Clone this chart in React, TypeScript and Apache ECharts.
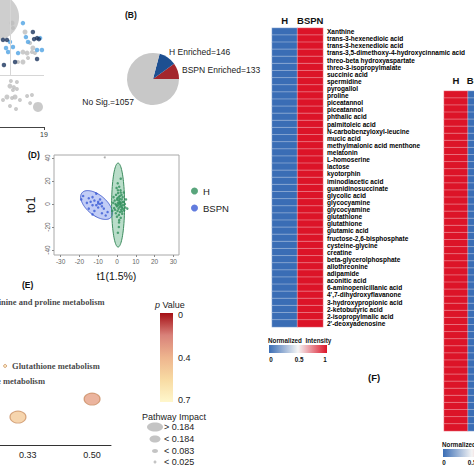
import React, { useEffect, useRef } from 'react';
import * as echarts from 'echarts';

// ---------- (A) volcano fragment: [x, y, size] ----------
const aBlob = [[-1.7, 43.3, 46]];
const aGray = [
  [5.2, 40.9, 5], [5.6, 39.0, 4], [10.8, 37.4, 5], [13.0, 33.1, 4], [9.9, 29.5, 5], [13.8, 29.5, 4],
  [11.7, 29.1, 5], [7.8, 25.6, 4], [9.9, 25.6, 5], [15.1, 29.1, 4], [14.2, 31.1, 5], [12.1, 27.2, 4],
  [4.7, 18.1, 4], [7.3, 17.7, 4], [4.3, 16.1, 5], [6.0, 15.7, 4], [5.6, 14.6, 4], [7.3, 15.0, 4],
  [3.0, 11.8, 5], [1.3, 10.6, 4], [5.2, 11.4, 4], [6.5, 11.8, 5], [8.6, 10.6, 4], [11.7, 12.2, 4],
  [13.8, 12.6, 4], [4.3, 8.3, 4], [6.9, 7.1, 4], [13.0, 9.4, 4], [16.4, 7.9, 10],
];
const aLightBlue = [
  [4.3, 33.5], [2.6, 31.1], [9.9, 40.9], [11.2, 35.4], [17.3, 35.0], [18.1, 30.3], [16.0, 30.3],
  [3.5, 29.5], [7.8, 29.1], [12.1, 33.5], [5.6, 31.5],
];
const aNavy = [
  [1.3, 34.3], [3.0, 34.3], [14.2, 37.4], [14.7, 34.6], [16.0, 35.0], [16.8, 34.6], [16.0, 26.8],
  [1.7, 24.4], [6.5, 25.6],
];
const aThreshold = 20.5;
const aVertical = 4.3;
const aTicks = [19];

// ---------- (B) pie ----------
const pieNames = ['BSPN Enriched', 'H Enriched', 'No Sig.'];
const pieValues = [133, 146, 1057];

// ---------- (C) heatmap ----------
const groups = ['H', 'BSPN'];
const leftMetabolites = [
  'Xanthine', 'trans-3-hexenedioic acid', 'trans-3-hexenedioic acid',
  'trans-3,5-dimethoxy-4-hydroxycinnamic acid', 'threo-beta hydroxyaspartate', 'threo-3-isopropylmalate',
  'succinic acid', 'spermidine', 'pyrogallol', 'proline', 'piceatannol', 'piceatannol', 'phthalic acid',
  'palmitoleic acid', 'N-carbobenzyloxyl-leucine', 'mucic acid', 'methylmalonic acid menthone', 'melatonin',
  'L-homoserine', 'lactose', 'kyotorphin', 'iminodiacetic acid', 'guanidinosuccinate', 'glycolic acid',
  'glycocyamine', 'glycocyamine', 'glutathione', 'glutathione', 'glutamic acid', 'fructose-2,6-bisphosphate',
  'cysteine-glycine', 'creatine', 'beta-glycerolphosphate', 'allothreonine', 'adipamide', 'aconitic acid',
  '6-aminopenicillanic acid', "4',7-dihydroxyflavanone", '3-hydroxypropionic acid', '2-ketobutyric acid',
  '2-isopropylmalic acid', "2'-deoxyadenosine",
];
const leftH = [0,0,0,0,0,0,0,0,0,0,0,0,0,0,0,0,0,0,0,0,0,0,0,0,0,0,0,0,0,0,0,0,0,0,0,0,0,0,0,0,0,0];
const leftBSPN = [1,1,1,1,1,1,1,1,1,1,1,1,1,1,1,1,1,1,1,1,1,1,1,1,1,1,1,1,1,1,1,1,1,1,1,1,1,1,1,1,1,1];

// right heatmap (labels fall outside the figure)
const rightRows = [
  'r1','r2','r3','r4','r5','r6','r7','r8','r9','r10','r11','r12','r13','r14','r15','r16',
  'r17','r18','r19','r20','r21','r22','r23','r24','r25','r26','r27','r28','r29','r30','r31','r32',
  'r33','r34','r35','r36','r37','r38','r39','r40','r41','r42','r43','r44','r45','r46','r47','r48',
];
const rightH = [1,1,1,1,1,1,1,1,1,1,1,1,1,1,1,1,1,1,1,1,1,1,1,1,1,1,1,1,1,1,1,1,1,1,1,1,1,1,1,1,1,1,1,1,1,1,1,1];
const rightBSPN = [0,0,0,0,0,0,0,0,0,0,0,0,0,0,0,0,0,0,0,0,0,0,0,0,0,0,0,0,0,0,0,0,0,0,0,0,0,0,0,0,0,0,0,0,0,0,0,0];
const intensityTicks = ['0', '0.5', '1'];

// ---------- (D) OPLS-DA ----------
const dTicks = [-30, -20, -10, 0, 10, 20, 30];
const dYTicks = [-40, -20, 0, 20, 40];
const dGreen = [
  [0.5, 12], [1.2, 15], [2.0, 10], [-0.5, 8], [1.5, 7], [3.0, 6], [0.2, 5], [2.5, 4], [-1.2, 3], [1.0, 3],
  [3.5, 2], [0.5, 1], [2.0, 0.5], [-0.8, 0], [1.8, -0.5], [3.2, -1], [0.0, -2], [1.4, -2.5], [2.6, -3],
  [-1.5, -3.5], [0.8, -4], [2.2, -5], [3.8, -5.5], [0.3, -6], [1.6, -7], [-0.6, -8], [2.8, -8.5], [1.0, -9.5],
  [0.0, -11], [2.0, -12], [1.2, -14], [-1.0, -5], [4.2, 0], [4.5, -3], [-2.0, 1], [0.6, 9.5], [2.4, 8],
  [1.9, 12], [-0.2, 14], [3.6, 10], [1.1, -16], [0.4, 18], [5.5, -4], [-2.5, -6], [2.9, 1.5], [0.9, 6],
  [1.7, 2], [-0.3, -1], [2.3, -1.8], [1.3, 0.8], [0.7, -0.7], [3.1, -4], [1.5, 4.5], [0.1, 3.8],
  [2.7, -6.5], [-1.8, 6], [4.8, 4], [1.0, -20], [2.0, 22], [0.5, -25],
];
const dBlue = [
  [-18, 7], [-15, 5], [-13, 6], [-12, 3], [-10, 2], [-9, 0], [-11, -1], [-8, -2], [-13, -1], [-10, -3],
  [-7, -4], [-12, -6], [-8, -8], [-6, -10], [-14, 2], [-16, 1], [-9, 4], [-11, 9], [-5, -7], [-13, -9],
  [-10, 0.5], [-8, 1], [-15, -4], [-19, 4],
];
const dOutlier = [[-6.5, 40.5]];
const blueEllipse = { center: [-10.85, -0.87], u: [7.74, -10.62], v: [-3.42, -6.66] };
const greenEllipse = { center: [0.6, -0.9], u: [0, 36.5], v: [3.45, 0] };

// ---------- (E) pathway bubbles ----------
const ePathways = ['Arginine and proline metabolism', 'Glutathione metabolism', 'Cysteine and methionine metabolism', '', ''];
const eImpactX = [0.197, 0.27, 0.003, 0.304, 0.5];
const eLogP = [4.61, 2.55, 2.06, 0.9, 1.48];
const eP = [0.02, 0.6, 0.1, 0.45, 0.28];
const eImpact = [0.02, 0.01, 0.02, 0.2, 0.25];
const eTicks = [0.17, 0.33, 0.5];
const pTickLabels = ['0', '0.4', '0.7'];
const impactLabels = ['> 0.184', '< 0.184', '< 0.083', '< 0.025'];

const SANS = 'Liberation Sans, Arial, sans-serif';
const SERIF = 'Liberation Serif, Times New Roman, serif';
const heatColors = ['#3a6db5', '#f5f5f5', '#dc1428'];
const pColors = ['#a50f15', '#d9827a', '#eeb58e', '#f8dba3', '#fff7cc'];

function impactSize(v: number): number[] {
  if (v > 0.184) return [16, 12];
  if (v > 0.083) return [11, 7];
  if (v > 0.025) return [6, 4];
  return [3, 3];
}
const legendSizes = [[16, 9], [11, 7], [6, 4], [3, 3]];

function ellipseSeries(e: any, name: string, fill: string, stroke: string) {
  return {
    type: 'custom', name, xAxisIndex: 3, yAxisIndex: 3, silent: true, clip: true,
    data: [[e.center[0], e.center[1]]],
    renderItem: (_p: any, api: any) => {
      const pts: number[][] = [];
      const n = 90;
      for (let i = 0; i < n; i++) {
        const t = (i / n) * Math.PI * 2;
        const x = e.center[0] + Math.cos(t) * e.u[0] + Math.sin(t) * e.v[0];
        const y = e.center[1] + Math.cos(t) * e.u[1] + Math.sin(t) * e.v[1];
        pts.push(api.coord([x, y]));
      }
      return { type: 'polygon', shape: { points: pts }, style: { fill, stroke, lineWidth: 1 } };
    },
  };
}

function txt(text: string, x: number, y: number, o: any = {}) {
  return {
    type: 'text', x, y, silent: true,
    style: {
      text, fill: o.fill || '#111', fontSize: o.fontSize || 9, fontWeight: o.fontWeight || 'normal',
      fontFamily: o.fontFamily || SANS, align: o.align || 'left', verticalAlign: 'middle', rich: o.rich,
    },
  };
}

export default function App() {
  const ref = useRef<HTMLDivElement>(null);
  useEffect(() => {
    if (!ref.current) return;
    const chart = echarts.init(ref.current, null, { renderer: 'svg' });

    const heatL: number[][] = [];
    leftMetabolites.forEach((_, i) => { heatL.push([0, i, leftH[i]]); heatL.push([1, i, leftBSPN[i]]); });
    const heatR: number[][] = [];
    rightRows.forEach((_, i) => { heatR.push([0, i, rightH[i]]); heatR.push([1, i, rightBSPN[i]]); });

    const heatGrad = () => new echarts.graphic.LinearGradient(0, 0, 1, 0,
      heatColors.map((c, i) => ({ offset: i / (heatColors.length - 1), color: c })));
    const pGrad = new echarts.graphic.LinearGradient(0, 0, 0, 1,
      pColors.map((c, i) => ({ offset: i / (pColors.length - 1), color: c })));

    const graphics: any[] = [
      txt('(B)', 125, 15, { fontWeight: 'bold', fontSize: 8.5 }),
      txt('(D)', 28, 155, { fontWeight: 'bold', fontSize: 8.5 }),
      txt('(E)', 22, 285, { fontWeight: 'bold', fontSize: 8.5 }),
      txt('(F)', 368, 377, { fontWeight: 'bold', fontSize: 9.5 }),
      txt(`${pieNames[1]}=${pieValues[1]}`, 169, 52, { fontSize: 8.5, fill: '#222' }),
      txt(`${pieNames[0]}=${pieValues[0]}`, 182, 70, { fontSize: 8.5, fill: '#222' }),
      txt(`${pieNames[2]}=${pieValues[2]}`, 134, 102, { fontSize: 8.5, fill: '#222', align: 'right' }),
      // left intensity bar
      txt('Normalized  Intensity', 268, 340, { fontSize: 6.3, fontWeight: 'bold' }),
      { type: 'rect', shape: { x: 269, y: 345, width: 58, height: 8 }, style: { fill: heatGrad() }, silent: true },
      txt(intensityTicks[0], 271, 359, { fontSize: 6.3, fontWeight: 'bold', align: 'center' }),
      txt(intensityTicks[1], 299, 359, { fontSize: 6.3, fontWeight: 'bold', align: 'center' }),
      txt(intensityTicks[2], 325, 359, { fontSize: 6.3, fontWeight: 'bold', align: 'center' }),
      // right intensity bar
      txt('Normalized  Intensity', 442, 444, { fontSize: 6.3, fontWeight: 'bold' }),
      { type: 'rect', shape: { x: 443, y: 449, width: 58, height: 8 }, style: { fill: heatGrad() }, silent: true },
      txt(intensityTicks[0], 444, 462, { fontSize: 6.3, fontWeight: 'bold', align: 'center' }),
      txt(intensityTicks[1], 472, 462, { fontSize: 6.3, fontWeight: 'bold', align: 'center' }),
      // p value bar
      txt('{i|p} Value', 155, 305, { fontSize: 9, fill: '#222', rich: { i: { fontStyle: 'italic', fontSize: 9, fontFamily: SANS, fill: '#222' } } }),
      { type: 'rect', shape: { x: 160, y: 313, width: 13, height: 89 }, style: { fill: pGrad }, silent: true },
      txt(pTickLabels[0], 178, 315, { fontSize: 9, fill: '#222' }),
      txt(pTickLabels[1], 178, 358, { fontSize: 9, fill: '#222' }),
      txt(pTickLabels[2], 178, 400, { fontSize: 9, fill: '#222' }),
      txt('Pathway Impact', 142, 417, { fontSize: 9, fill: '#222' }),
    ];
    const legendY = [427, 439, 451, 462];
    impactLabels.forEach((lab, i) => {
      graphics.push({
        type: 'ellipse', silent: true,
        shape: { cx: 155, cy: legendY[i], rx: legendSizes[i][0] / 2, ry: legendSizes[i][1] / 2 },
        style: { fill: '#c4c4c4' },
      });
      graphics.push(txt(lab, 164, legendY[i], { fontSize: 9, fill: '#222' }));
    });

    const g = (o: any) => ({ outerBoundsMode: 'none', containLabel: false, ...o });

    const option: any = {
      animation: false,
      textStyle: { fontFamily: SANS },
      legend: {
        data: ['H', 'BSPN'], orient: 'vertical', left: 186, top: 181, itemWidth: 7, itemHeight: 7,
        itemGap: 7, icon: 'circle', textStyle: { fontSize: 9.5, color: '#222', fontFamily: SANS },
      },
      visualMap: [
        { type: 'continuous', show: false, min: 0, max: 1, seriesIndex: [5, 6], inRange: { color: heatColors } },
        { type: 'continuous', show: false, min: 0, max: 0.7, dimension: 2, seriesIndex: [12], inRange: { color: pColors } },
      ],
      grid: [
        g({ left: 0, top: 0, width: 44, height: 127 }),
        g({ left: 272, top: 28, width: 51, height: 299 }),
        g({ left: 444, top: 91, width: 48, height: 340 }),
        g({ left: 54, top: 155, width: 125, height: 100, show: true, borderColor: '#a8a8a8', borderWidth: 1 }),
        g({ left: -97, top: 290, width: 208, height: 155 }),
      ],
      xAxis: [
        {
          gridIndex: 0, type: 'value', min: 0, max: 19, splitLine: { show: false },
          axisLine: { onZero: false, lineStyle: { color: '#444' } },
          axisTick: { customValues: aTicks, length: 3, lineStyle: { color: '#444' } },
          axisLabel: { customValues: aTicks, fontSize: 7, color: '#333', margin: 4 },
        },
        {
          gridIndex: 1, type: 'category', data: groups, position: 'top',
          axisLine: { show: false }, axisTick: { show: false },
          axisLabel: { interval: 0, fontSize: 9.5, fontWeight: 'bold', color: '#111', margin: 3 },
        },
        {
          gridIndex: 2, type: 'category', data: groups, position: 'top',
          axisLine: { show: false }, axisTick: { show: false },
          axisLabel: { interval: 0, fontSize: 9.5, fontWeight: 'bold', color: '#111', margin: 6 },
        },
        {
          gridIndex: 3, type: 'value', min: -33.5, max: 33, splitLine: { show: false },
          axisLine: { show: false, onZero: false },
          axisTick: { show: true, customValues: dTicks, length: 2, lineStyle: { color: '#888' } },
          axisLabel: { customValues: dTicks, fontSize: 6.5, color: '#666', margin: 3 },
          name: 't1(1.5%)', nameLocation: 'middle', nameGap: 15,
          nameTextStyle: { fontSize: 10.5, color: '#111' },
        },
        {
          gridIndex: 4, type: 'value', min: 0, max: 0.55, splitLine: { show: false },
          axisLine: { onZero: false, lineStyle: { color: '#333' } }, axisTick: { show: false },
          axisLabel: { customValues: eTicks, formatter: (v: number) => v.toFixed(2), fontSize: 9, color: '#222', margin: 5 },
        },
      ],
      yAxis: [
        { gridIndex: 0, type: 'value', min: 0, max: 50, show: false },
        {
          gridIndex: 1, type: 'category', data: leftMetabolites, inverse: true, position: 'right',
          axisLine: { show: false }, axisTick: { show: false },
          axisLabel: { fontSize: 6.5, fontWeight: 'bold', color: '#000', margin: 4, interval: 0 },
        },
        {
          gridIndex: 2, type: 'category', data: rightRows, inverse: true, position: 'right',
          axisLine: { show: false }, axisTick: { show: false }, axisLabel: { show: false },
        },
        {
          gridIndex: 3, type: 'value', min: -44.3, max: 42.6, splitLine: { show: false },
          axisLine: { show: false, onZero: false },
          axisTick: { show: true, customValues: dYTicks, length: 2, lineStyle: { color: '#888' } },
          axisLabel: { customValues: dYTicks, fontSize: 6.5, color: '#666', margin: 3, rotate: 90 },
          name: 'to1', nameLocation: 'middle', nameGap: 17, nameRotate: 90,
          nameTextStyle: { fontSize: 12, color: '#111' },
        },
        { gridIndex: 4, type: 'value', min: 0, max: 5, show: false },
      ],
      series: [
        // 0-3 (A)
        {
          type: 'scatter', name: 'a-blob', xAxisIndex: 0, yAxisIndex: 0, clip: false, silent: true,
          data: aBlob, symbolSize: (v: number[]) => v[2], itemStyle: { color: '#c2c2c2' },
        },
        {
          type: 'scatter', name: 'a-ns', xAxisIndex: 0, yAxisIndex: 0, clip: false, silent: true,
          data: aGray, symbolSize: (v: number[]) => v[2], itemStyle: { color: '#bdbdbd' },
          markLine: {
            silent: true, symbol: ['none', 'none'], label: { show: false },
            lineStyle: { color: '#d6d6d6', type: 'solid', width: 1 },
            data: [
              { yAxis: aThreshold },
              [{ coord: [aVertical, aThreshold] }, { coord: [aVertical, 50] }],
            ],
          },
        },
        {
          type: 'scatter', name: 'a-up', xAxisIndex: 0, yAxisIndex: 0, clip: false, silent: true,
          data: aLightBlue, symbolSize: 4.5, itemStyle: { color: '#4fa3e3' },
        },
        {
          type: 'scatter', name: 'a-down', xAxisIndex: 0, yAxisIndex: 0, clip: false, silent: true,
          data: aNavy, symbolSize: 4.5, itemStyle: { color: '#1c355e' },
        },
        // 4 (B)
        {
          type: 'pie', name: 'pie', center: [153, 79], radius: 26, startAngle: 0, clockwise: false,
          label: { show: false }, labelLine: { show: false }, silent: true,
          data: pieNames.map((n, i) => ({
            name: n, value: pieValues[i],
            itemStyle: { color: ['#a3262c', '#1d4f91', '#c8c8c8'][i] },
          })),
        },
        // 5-6 heatmaps
        {
          type: 'heatmap', name: 'heat-left', xAxisIndex: 1, yAxisIndex: 1, data: heatL, silent: true,
          itemStyle: { borderColor: 'rgba(255,255,255,0.55)', borderWidth: 0.6 },
        },
        {
          type: 'heatmap', name: 'heat-right', xAxisIndex: 2, yAxisIndex: 2, data: heatR, silent: true,
          itemStyle: { borderColor: 'rgba(255,255,255,0.55)', borderWidth: 0.6 },
        },
        // 7-8 ellipses
        ellipseSeries(blueEllipse, 'ell-b', 'rgba(120,145,235,0.45)', '#4b63d0'),
        ellipseSeries(greenEllipse, 'ell-g', 'rgba(80,170,120,0.4)', '#3c8c5e'),
        // 9-11 points
        {
          type: 'scatter', name: 'H', xAxisIndex: 3, yAxisIndex: 3, data: dGreen, symbolSize: 2.5,
          itemStyle: { color: '#2f8f5b' }, silent: true,
        },
        {
          type: 'scatter', name: 'BSPN', xAxisIndex: 3, yAxisIndex: 3, data: dBlue, symbolSize: 2.5,
          itemStyle: { color: '#3b5bd6' }, silent: true,
        },
        {
          type: 'scatter', name: 'outlier', xAxisIndex: 3, yAxisIndex: 3, data: dOutlier, symbolSize: 2,
          itemStyle: { color: '#999' }, silent: true,
        },
        // 12 (E)
        {
          type: 'scatter', name: 'pathways', xAxisIndex: 4, yAxisIndex: 4, clip: false, silent: true,
          data: ePathways.map((n, i) => ({ name: n, value: [eImpactX[i], eLogP[i], eP[i], eImpact[i]] })),
          symbolSize: (v: number[]) => impactSize(v[3]),
          itemStyle: { borderColor: 'rgba(185,110,55,0.75)', borderWidth: 1 },
          label: {
            show: true, position: 'right', distance: 5, formatter: '{b}',
            fontFamily: SERIF, fontWeight: 'bold', fontSize: 8.5, color: '#111',
          },
        },
      ],
      graphic: { elements: graphics },
    };
    chart.setOption(option);
    return () => chart.dispose();
  }, []);
  return <div ref={ref} style={{ position: 'absolute', left: 0, top: 0, width: 474, height: 474 }} />;
}
